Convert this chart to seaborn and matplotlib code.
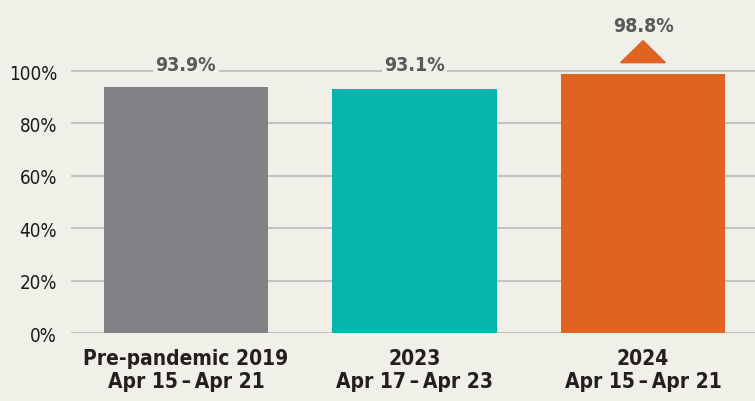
import matplotlib
matplotlib.use("Agg")
import matplotlib.pyplot as plt
import seaborn as sns
import pandas as pd

# chart data
periods = ["Pre-pandemic 2019\nApr 15\u2009\u2013\u2009Apr 21",
           "2023\nApr 17\u2009\u2013\u2009Apr 23",
           "2024\nApr 15\u2009\u2013\u2009Apr 21"]
values = [93.9, 93.1, 98.8]
value_labels = ["93.9%", "93.1%", "98.8%"]
colors = ["#818285", "#06B5AC", "#E06421"]
y_ticks = [0, 20, 40, 60, 80, 100]

bg = "#F0EFE8"
sns.set_style("white")
plt.rcParams['font.family'] = ['DejaVu Sans']
plt.rcParams['font.stretch'] = 'condensed'

df = pd.DataFrame({"period": periods, "value": values})

fig = plt.figure(figsize=(7.55, 4.02), dpi=100, facecolor=bg)
ax = fig.add_axes([0.094, 0.169, 0.906, 0.8147])
ax.set_facecolor(bg)

sns.barplot(data=df, x="period", y="value", hue="period", palette=colors,
            width=0.72, saturation=1, linewidth=0, edgecolor="none",
            legend=False, ax=ax, zorder=3)

ax.set_ylim(0, 125)
ax.set_xlim(-0.503, 2.49)
ax.set_yticks(y_ticks)
ax.set_yticklabels([f"{t}%" for t in y_ticks], fontsize=13.5, color="#1a1a1a")
for t in y_ticks:
    ax.axhline(t, color="#C2C2C2", lw=1.5, zorder=1)

ax.tick_params(axis="both", length=0)
ax.tick_params(axis="x", pad=11)
ax.tick_params(axis="y", pad=10)
for lbl in ax.get_xticklabels():
    lbl.set_fontsize(15)
    lbl.set_fontweight("bold")
    lbl.set_color("#231F20")
    lbl.set_linespacing(1.15)
ax.set_xlabel("")
ax.set_ylabel("")
sns.despine(ax=ax, left=True, bottom=True, top=True, right=True)

# value labels: first two sit on the 100% line, the last one above an up arrow
for i, (v, lab) in enumerate(zip(values, value_labels)):
    if i < 2:
        ax.text(i, 102.6, lab, ha="center", va="center", fontsize=14, fontweight="bold",
                color="#58595B", zorder=4,
                bbox=dict(boxstyle="square,pad=0.12", fc=bg, ec="none"))
    else:
        ax.text(i, 117.5, lab, ha="center", va="center", fontsize=14, fontweight="bold",
                color="#58595B", zorder=4)
        ax.fill([i - 0.098, i + 0.098, i], [103.2, 103.2, 111.6], color=colors[i],
                zorder=4, clip_on=False)

fig.savefig("out.png", dpi=100, facecolor=bg)
